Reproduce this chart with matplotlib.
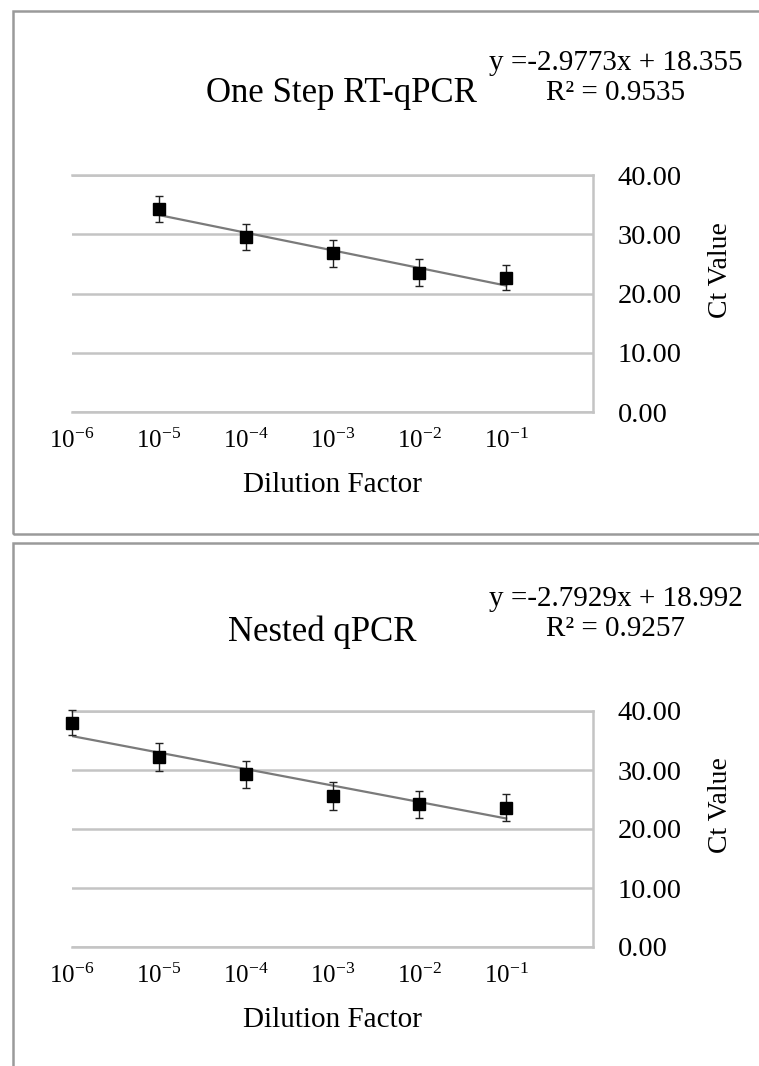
import matplotlib

matplotlib.use("Agg")
import matplotlib.pyplot as plt
from matplotlib.patches import Rectangle
import numpy as np

plt.rcParams["font.family"] = ["Liberation Serif", "DejaVu Serif"]
plt.rcParams["mathtext.fontset"] = "custom"
plt.rcParams["mathtext.rm"] = "Liberation Serif"

# dilution factor as log10 exponent
dilution_labels = ["10^{-6}", "10^{-5}", "10^{-4}", "10^{-3}", "10^{-2}", "10^{-1}"]
dilution_log = [-6, -5, -4, -3, -2, -1]

# one step RT-qPCR (no signal at 10^-6)
onestep_x = [-5, -4, -3, -2, -1]
onestep_ct = [34.3, 29.5, 26.8, 23.5, 22.7]
onestep_err = [2.2, 2.2, 2.3, 2.25, 2.1]
onestep_slope = -2.9773
onestep_icpt = 18.355
onestep_r2 = 0.9535

# nested qPCR
nested_x = [-6, -5, -4, -3, -2, -1]
nested_ct = [38.0, 32.2, 29.3, 25.6, 24.2, 23.6]
nested_err = [2.1, 2.4, 2.3, 2.4, 2.3, 2.3]
nested_slope = -2.7929
nested_icpt = 18.992
nested_r2 = 0.9257

W, H = 759, 1066
GRID = "#c4c4c4"


def px(x, y):
    return x / W, 1 - y / H


def draw_panel(fig, rect, x, ct, err, slope, icpt, r2, title, title_xy, eq_xy):
    ax = fig.add_axes(rect)
    ax.set_xlim(-6, 0)
    ax.set_ylim(0, 40)

    # trendline from fitted equation
    xs = np.array([min(x), max(x)])
    ax.plot(xs, slope * xs + icpt, color="#7a7a7a", lw=1.6, zorder=2)
    ax.errorbar(x, ct, yerr=err, fmt="s", color="black", ms=9,
                ecolor="#222222", elinewidth=1, capsize=3, capthick=1,
                zorder=3, clip_on=False)

    ax.set_yticks([0, 10, 20, 30, 40])
    ax.set_yticklabels([f"{v:.2f}" for v in [0, 10, 20, 30, 40]])
    ax.yaxis.tick_right()
    ax.set_xticks(dilution_log)
    ax.set_xticklabels([f"$\\mathregular{{{s}}}$" for s in dilution_labels])
    ax.tick_params(axis="y", length=0, pad=18, labelsize=20.5)
    ax.tick_params(axis="x", length=0, pad=12, labelsize=18)

    ax.grid(axis="y", color=GRID, lw=1.8)
    ax.set_axisbelow(True)
    ax.spines["left"].set_visible(False)
    for side in ["right", "top", "bottom"]:
        ax.spines[side].set_color(GRID)
        ax.spines[side].set_linewidth(1.8)

    ax.set_xlabel("Dilution Factor", fontsize=21, labelpad=14)
    ax.set_ylabel("Ct Value", fontsize=20, rotation=90, ha="center", va="center")
    ax.yaxis.set_label_position("right")
    ax.yaxis.set_label_coords(1.22, 0.6)

    tx, ty = px(*title_xy)
    fig.text(tx, ty, title, fontsize=25, ha="center", va="center")
    ex, ey = px(*eq_xy)
    fig.text(ex, ey, f"y ={slope}x + {icpt}", fontsize=21, ha="center", va="center")
    ex2, ey2 = px(eq_xy[0], eq_xy[1] + 30)
    fig.text(ex2, ey2, f"R² = {r2}", fontsize=21, ha="center", va="center")
    return ax


def main():
    fig = plt.figure(figsize=(W / 100, H / 100), dpi=100)

    # panel frames
    for top, bottom in [(11, 534), (543, 1100)]:
        x0, y0 = px(13, bottom)
        fig.patches.append(Rectangle((x0, y0), 1.2, (bottom - top) / H,
                                     transform=fig.transFigure, fill=False,
                                     edgecolor="#9a9a9a", lw=1.8))

    left = 72 / W
    width = 521 / W
    draw_panel(fig, [left, 1 - 412 / H, width, 237 / H], onestep_x, onestep_ct,
               onestep_err, onestep_slope, onestep_icpt, onestep_r2,
               "One Step RT-qPCR", (341, 93), (616, 63))
    draw_panel(fig, [left, 1 - 947 / H, width, 236 / H], nested_x, nested_ct,
               nested_err, nested_slope, nested_icpt, nested_r2,
               "Nested qPCR", (322, 632), (616, 599))

    fig.savefig("out.png", dpi=100)


if __name__ == "__main__":
    main()
